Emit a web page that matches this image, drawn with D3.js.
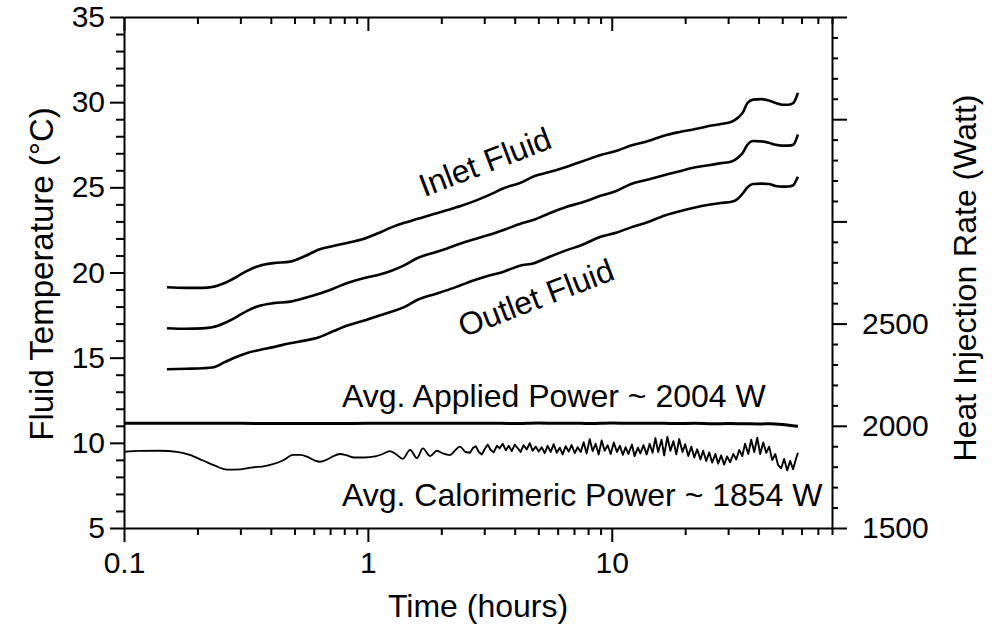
<!DOCTYPE html>
<html><head><meta charset="utf-8">
<script src="https://cdn.jsdelivr.net/npm/d3@7"></script>
<style>
body{margin:0;background:#fff;}
svg text{font-family:"Liberation Sans",Arial,sans-serif;fill:#000;}
</style></head><body>
<svg id="c" width="994" height="628"></svg>
<script>
// ---------------- DATA ----------------
const fluidTimes = [0.15,0.18,0.21,0.23,0.26,0.29,0.32,0.36,0.41,0.48,0.55,0.63,0.72,0.83,0.95,1.1,1.25,1.4,1.6,1.85,2.1,2.4,2.8,3.2,3.6,4.2,4.8,5.5,6.5,7.5,9,10.5,12,14,16.5,19,22,25,28,31,33,34.5,36,38,41,44,47,50,53,55.5,57,58];
const inletTemp = [19.13,19.1,19.1,19.15,19.4,19.75,20.1,20.4,20.55,20.64,20.95,21.35,21.55,21.75,21.95,22.3,22.65,22.9,23.15,23.42,23.65,23.9,24.25,24.6,24.95,25.25,25.65,25.88,26.2,26.5,26.9,27.15,27.45,27.7,28.05,28.25,28.42,28.6,28.72,28.85,29.1,29.4,29.95,30.15,30.18,30.1,29.95,29.85,29.85,29.95,30.25,30.55];
const middleTemp = [16.73,16.7,16.72,16.78,17.05,17.4,17.75,18.05,18.2,18.29,18.5,18.75,19.05,19.4,19.65,19.85,20.1,20.4,20.85,21.15,21.4,21.7,22.0,22.25,22.5,22.85,23.1,23.45,23.85,24.1,24.5,24.8,25.2,25.45,25.72,25.95,26.18,26.3,26.42,26.52,26.75,27.05,27.5,27.72,27.7,27.62,27.5,27.45,27.45,27.5,27.8,28.1];
const outletTemp = [14.32,14.35,14.38,14.42,14.75,15.05,15.28,15.45,15.62,15.85,16.0,16.2,16.55,16.9,17.15,17.45,17.7,17.95,18.4,18.7,18.95,19.25,19.6,19.85,20.05,20.4,20.55,20.9,21.3,21.6,22.1,22.35,22.65,22.95,23.35,23.6,23.82,23.98,24.08,24.15,24.35,24.65,25.0,25.2,25.22,25.2,25.08,25.04,25.05,25.12,25.4,25.62];

const appliedTimes = [0.1,0.15,0.2,0.3,0.5,0.7,1,1.5,2,3,4,5,6,7,8,10,12,15,18,22,26,30,35,40,45,50,54,58];
const appliedPower = [2013,2013,2012,2012,2011,2011,2012,2013,2012,2013,2011,2014,2012,2013,2011,2014,2012,2013,2011,2012,2010,2011,2010,2009,2010,2006,2002,1998];

const calTimesEarly = [0.1,0.116,0.14,0.165,0.186,0.211,0.236,0.264,0.3,0.338,0.378,0.408,0.448,0.493,0.528,0.563,0.606,0.637,0.672,0.717,0.768,0.82,0.88,0.97,1.07,1.15,1.23,1.3,1.39,1.49,1.59,1.68,1.8,1.92,2.03,2.17,2.28,2.38,2.5];
const calPowerEarly = [1873,1877,1878,1872,1858,1830,1805,1786,1787,1797,1803,1812,1830,1858,1858,1849,1830,1824,1832,1850,1862,1855,1845,1845,1850,1862,1876,1862,1838,1882,1842,1890,1852,1878,1865,1857,1880,1898,1872];
const calTimesLate = [2.62,2.70,2.77,2.85,2.93,3.02,3.10,3.19,3.28,3.38,3.47,3.57,3.68,3.78,3.89,4.00,4.12,4.23,4.35,4.48,4.61,4.74,4.88,5.02,5.16,5.31,5.46,5.62,5.78,5.95,6.12,6.29,6.47,6.66,6.85,7.05,7.25,7.46,7.67,7.89,8.12,8.35,8.59,8.84,9.09,9.35,9.62,9.90,10.2,10.5,10.8,11.1,11.4,11.7,12.1,12.4,12.8,13.1,13.5,13.9,14.3,14.7,15.1,15.5,16.0,16.4,16.9,17.4,17.9,18.4,18.9,19.5,20.0,20.6,21.2,21.8,22.4,23.1,23.7,24.4,25.1,25.8,26.6,27.3,28.1,28.9,29.7,30.6,31.5,32.4,33.3,34.3,35.2,36.3,37.3,38.4,39.5,40.6,41.8,43.0,44.2,45.5,46.8,48.1,49.5,50.9,52.4,53.9,55.4,57.0,58.0];
const calPowerLate = [1868,1892,1900,1872,1860,1888,1908,1882,1870,1902,1890,
  1912,1880,1902,1876,1908,1890,1872,1905,1884,1915,1878,1898,1874,
  1895,1866,1902,1872,1910,1868,1893,1860,1900,1874,1906,1866,1895,
  1872,1920,1865,1935,1876,1912,1860,1928,1878,1905,1862,1918,1872,
  1902,1858,1895,1862,1908,1852,1893,1865,1905,1860,
  1912,1868,1940,1872,1932,1855,1945,1878,1925,1860,1935,1872,1910,
  1852,1898,1845,1885,1835,1878,1828,1870,1820,1862,1815,1855,1810,1850,1822,1862,
  1835,1882,1852,1912,1862,1932,1872,1942,1862,1918,
  1868,1898,1832,1862,1808,
  1792,1838,1782,1828,1788,1840,1868];

const leftMajorTicks = [5,10,15,20,25,30,35];
const leftMinorTicks = [6,7,8,9,11,12,13,14,16,17,18,19,21,22,23,24,26,27,28,29,31,32,33,34];
const rightMajorTicks = [1500,2000,2500,3000,3500,4000];
const rightLabelTicks = [1500,2000,2500];
const rightMinorTicks = [1600,1700,1800,1900,2100,2200,2300,2400,2600,2700,2800,2900,3100,3200,3300,3400,3600,3700,3800,3900];
const xMajorTicks = [0.1,1,10];
const xTickLabels = ["0.1","1","10"];
const xMinorTicks = [0.2,0.3,0.4,0.5,0.6,0.7,0.8,0.9,2,3,4,5,6,7,8,9,20,30,40,50,60,70,80];

// ---------------- CHART ----------------
const L = 124, R = 832, T = 17, B = 528;
const svg = d3.select("#c");
const x = d3.scaleLog().domain([0.1, 80]).range([L, R]);
const yL = d3.scaleLinear().domain([5, 35]).range([B, T]);
const yR = d3.scaleLinear().domain([1500, 4000]).range([B, T]);

function styleAxis(g, fs) {
  g.attr("font-family", null).attr("font-size", null);
  g.selectAll("path.domain").attr("stroke", "#000").attr("stroke-width", 2);
  g.selectAll(".tick line").attr("stroke", "#000").attr("stroke-width", 2);
  g.selectAll(".tick text").attr("font-size", fs).attr("fill", "#000");
}

// bottom axis
svg.append("g").attr("transform", `translate(0,${B})`)
  .call(d3.axisBottom(x).tickValues(xMajorTicks).tickSize(14).tickSizeOuter(0).tickPadding(10)
    .tickFormat((d, i) => xTickLabels[i])).call(g => styleAxis(g, 30));
svg.append("g").attr("transform", `translate(0,${B})`)
  .call(d3.axisBottom(x).tickValues(xMinorTicks).tickSize(7).tickFormat(""))
  .call(g => { styleAxis(g, 30); g.select("path.domain").remove(); });

// top axis (ticks inward)
svg.append("g").attr("transform", `translate(0,${T})`)
  .call(d3.axisBottom(x).tickValues(xMajorTicks).tickSize(14).tickSizeOuter(0).tickFormat(""))
  .call(g => styleAxis(g, 30));
svg.append("g").attr("transform", `translate(0,${T})`)
  .call(d3.axisBottom(x).tickValues(xMinorTicks).tickSize(7).tickFormat(""))
  .call(g => { styleAxis(g, 30); g.select("path.domain").remove(); });

// left axis
svg.append("g").attr("transform", `translate(${L},0)`)
  .call(d3.axisLeft(yL).tickValues(leftMajorTicks).tickSize(14).tickSizeOuter(0).tickPadding(5).tickFormat(d3.format("d")))
  .call(g => styleAxis(g, 30));
svg.append("g").attr("transform", `translate(${L},0)`)
  .call(d3.axisLeft(yL).tickValues(leftMinorTicks).tickSize(8).tickFormat(""))
  .call(g => { styleAxis(g, 30); g.select("path.domain").remove(); });

// right axis
svg.append("g").attr("transform", `translate(${R},0)`)
  .call(d3.axisRight(yR).tickValues(rightMajorTicks).tickSize(15).tickSizeOuter(0).tickPadding(15)
    .tickFormat(d => rightLabelTicks.includes(d) ? String(d) : ""))
  .call(g => styleAxis(g, 30));
svg.append("g").attr("transform", `translate(${R},0)`)
  .call(d3.axisRight(yR).tickValues(rightMinorTicks).tickSize(6).tickFormat(""))
  .call(g => { styleAxis(g, 30); g.select("path.domain").remove(); });

// lines
const tempLine = d3.line().x(d => x(d[0])).y(d => yL(d[1])).curve(d3.curveMonotoneX);
const powLine = d3.line().x(d => x(d[0])).y(d => yR(d[1])).curve(d3.curveMonotoneX);
const powLineRaw = d3.line().x(d => x(d[0])).y(d => yR(d[1]));

[inletTemp, middleTemp, outletTemp].forEach(vals => {
  svg.append("path").datum(fluidTimes.map((t, i) => [t, vals[i]]))
    .attr("d", tempLine).attr("fill", "none").attr("stroke", "#000")
    .attr("stroke-width", 2.6).attr("stroke-linejoin", "round");
});

svg.append("path").datum(appliedTimes.map((t, i) => [t, appliedPower[i]]))
  .attr("d", powLine).attr("fill", "none").attr("stroke", "#000").attr("stroke-width", 3);

const calEarly = calTimesEarly.map((t, i) => [t, calPowerEarly[i]]);
const calLate = [calEarly[calEarly.length - 1]].concat(calTimesLate.map((t, i) => [t, calPowerLate[i]]));
svg.append("path").datum(calEarly)
  .attr("d", powLine).attr("fill", "none").attr("stroke", "#000").attr("stroke-width", 1.8)
  .attr("stroke-linejoin", "round");
svg.append("path").datum(calLate)
  .attr("d", powLineRaw).attr("fill", "none").attr("stroke", "#000").attr("stroke-width", 1.9)
  .attr("stroke-linejoin", "round");

// annotations
svg.append("text").attr("x", 342).attr("y", 407).attr("font-size", 32).text("Avg. Applied Power ~ 2004 W");
svg.append("text").attr("x", 342).attr("y", 506).attr("font-size", 32).text("Avg. Calorimeric Power ~ 1854 W");
svg.append("text").attr("transform", "translate(485,162) rotate(-21)").attr("text-anchor", "middle")
  .attr("dominant-baseline", "central").attr("font-size", 32).text("Inlet Fluid");
svg.append("text").attr("transform", "translate(536,298) rotate(-21)").attr("text-anchor", "middle")
  .attr("dominant-baseline", "central").attr("font-size", 32).text("Outlet Fluid");

// axis titles
svg.append("text").attr("transform", "translate(53,274) rotate(-90)").attr("text-anchor", "middle")
  .attr("font-size", 33).text("Fluid Temperature (°C)");
svg.append("text").attr("transform", "translate(976,278) rotate(-90)").attr("text-anchor", "middle")
  .attr("font-size", 32).text("Heat Injection Rate (Watt)");
svg.append("text").attr("x", 478).attr("y", 617).attr("text-anchor", "middle")
  .attr("font-size", 32).text("Time (hours)");
</script>
</body></html>
